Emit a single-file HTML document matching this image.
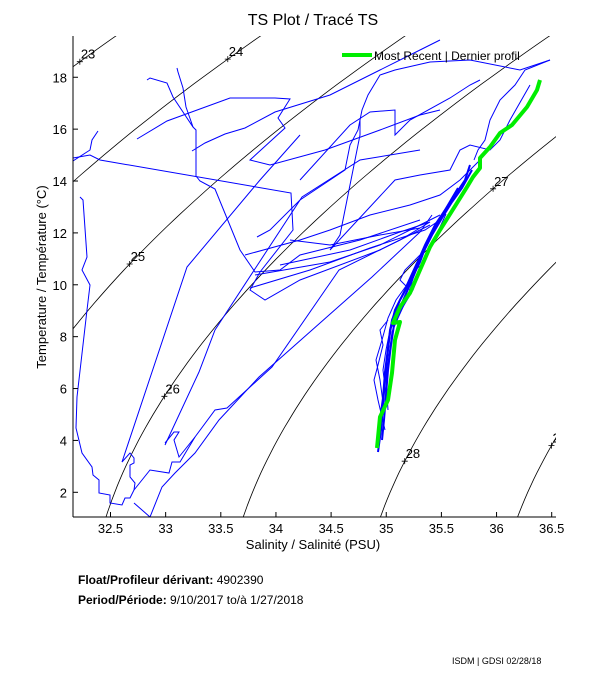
<!DOCTYPE html>
<html><head><meta charset="utf-8"><style>
html,body{margin:0;padding:0;background:#fff;}
svg{display:block;font-family:"Liberation Sans",sans-serif;}
</style></head><body>
<svg id="s" width="611" height="675" viewBox="0 0 611 675" xmlns="http://www.w3.org/2000/svg">
<defs><clipPath id="c"><rect x="73" y="36" width="483" height="481"/></clipPath></defs>
<rect width="611" height="675" fill="#fff"/>
<text x="313" y="25" font-size="16" text-anchor="middle">TS Plot / Tracé TS</text>
<g id="cont" clip-path="url(#c)" fill="none" stroke="#000" stroke-width="0.8"></g>
<g clip-path="url(#c)" fill="none" stroke="#0000ff" stroke-width="1">
<polyline points="80,197 83,200 87,257 82,270 90,285 87,310 77,397 76,428 82,453 92,467 93,475 99,480 99,493 110,495 110,503 122,505 125,498 130,498 134,490 135,483 130,477 130,465 134,463 134,458 130,453 122,462 187,267 260,180 300,135"/>
<polyline points="134,503 150,517 162,487 175,473 195,453 219,420 259,377 372,277 420,232 432,215"/>
<polyline points="134,490 150,470 169,473 172,462 180,462 195,437 215,410 227,408 272,367 339,270 400,240 430,222"/>
<polyline points="165,445 199,372 215,330 302,197 360,160 420,150"/>
<polyline points="165,443 174,432 179,432 174,440 179,457 195,437"/>
<polyline points="73,158 90,155 100,160 291,193 293,230 260,272 250,290 265,300 300,280 380,250 430,225"/>
<polyline points="73,161 90,150 92,140 98,131"/>
<polyline points="147,80 150,78 167,83 173,97 193,127 196,130 196,176 200,181 215,189 240,250 255,272 280,270 300,255 360,240 420,220"/>
<polyline points="177,68 178,72 183,88 186,107 193,127"/>
<polyline points="137,139 167,121 230,98 275,98 290,99 278,118 285,128 250,160 270,165 325,150 380,130 420,115 440,110"/>
<polyline points="192,151 205,143 225,134 245,128 275,112 330,95 380,70 410,55 440,40"/>
<polyline points="257,237 270,230 300,200 345,170 350,145 358,130 362,110 368,95 380,75 395,70 430,62 470,60 520,70 550,60"/>
<polyline points="360,120 360,135 340,235 330,250 395,180 420,175 450,170 460,150 470,145 490,150 500,140 510,120 530,85"/>
<polyline points="300,180 350,125 370,112 395,110 395,135 410,120 450,98 470,85 480,80"/>
<polyline points="245,255 300,240 330,230 370,215 410,205 440,195 460,180 480,160"/>
<polyline points="255,275 330,262 380,245 420,225 440,215"/>
<polyline points="290,240 330,245 380,235 420,228"/>
<polyline points="250,288 310,270 370,248 425,230 440,220"/>
<polyline points="280,265 350,250 400,232 430,222"/>
</g>
<g clip-path="url(#c)" fill="none" stroke="#0000ff" stroke-width="2">
<polyline points="378,452 381,430 383,405 385,380 387,360 390,330 395,310 405,290 415,268 425,245 435,225 445,210 455,195 465,180 470,165"/>
<polyline points="382,440 384,420 386,395 388,370 391,345 394,325 402,303 412,280 422,255 432,235 442,218 452,202 462,188 472,170"/>
<polyline points="380,420 383,398 385,372 389,340 392,320 400,300 410,282 420,262 428,240 438,222 448,205 458,188"/>
</g>
<g clip-path="url(#c)" fill="none" stroke="#0000ff" stroke-width="1">
<polyline points="384,410 380,380 376,360 382,340 388,318 396,300 406,286 416,264 430,238"/>
<polyline points="386,395 383,370 386,350 390,330 400,312 413,290 424,262 435,238 446,214"/>
<polyline points="388,410 386,380 389,355 392,332 398,318 408,296 418,275 428,250"/>
<polyline points="420,255 405,270 400,280 410,290 415,270 425,262"/>
<polyline points="385,430 378,400 374,380 378,365 383,345 380,330 388,320"/>
<polyline points="474,160 478,150 485,140 490,120 500,100 515,85 525,70 550,60"/>
</g>
<polyline clip-path="url(#c)" fill="none" stroke="#00ee00" stroke-width="4" stroke-linejoin="round" points="540,80 537,90 527,107 512,125 500,133 490,147 480,158 480,168 473,177 467,187 457,203 440,230 430,247 420,270 410,293 400,307 393,323 400,322 395,340 392,373 388,400 380,417 377,448"/>
<line x1="342" y1="55" x2="372" y2="55" stroke="#00ee00" stroke-width="4"/>
<text x="374" y="60" font-size="12">Most Recent | Dernier profil</text>
<g stroke="#000" stroke-width="1" fill="none">
<line x1="73" y1="36" x2="73" y2="517"/>
<line x1="73" y1="517" x2="556" y2="517"/>
</g>
<g id="ticks" stroke="#000" stroke-width="1"></g>
<g id="tl" font-size="13"></g>
<text x="313" y="549" font-size="13" text-anchor="middle">Salinity / Salinité (PSU)</text>
<text transform="translate(46,277) rotate(-90)" font-size="13" text-anchor="middle">Temperature / Température (°C)</text>
<text x="78" y="584" font-size="12"><tspan font-weight="bold">Float/Profileur dérivant:</tspan> 4902390</text>
<text x="78" y="604" font-size="12"><tspan font-weight="bold">Period/Période:</tspan> 9/10/2017  to/à  1/27/2018</text>
<text x="452" y="664" font-size="9">ISDM | GDSI 02/28/18</text>
</svg>
<script>
var NS="http://www.w3.org/2000/svg";
function X(s){return 110.5+(s-32.5)*110.3;}
function Y(t){return 492.3-(t-2)*25.94;}
function sig(S,T){
var rw=999.842594+6.793952e-2*T-9.095290e-3*T*T+1.001685e-4*T*T*T-1.120083e-6*T*T*T*T+6.536332e-9*Math.pow(T,5);
var A=8.24493e-1-4.0899e-3*T+7.6438e-5*T*T-8.2467e-7*T*T*T+5.3875e-9*T*T*T*T;
var B=-5.72466e-3+1.0227e-4*T-1.6546e-6*T*T;
return rw+A*S+B*Math.pow(S,1.5)+4.8314e-4*S*S-1000;}
function solveS(c,T){var lo=25,hi=45;for(var i=0;i<50;i++){var m=(lo+hi)/2;if(sig(m,T)<c)lo=m;else hi=m;}return (lo+hi)/2;}
var g=document.getElementById("cont");
function el(n,a,p,txt){var e=document.createElementNS(NS,n);for(var k in a)e.setAttribute(k,a[k]);if(txt)e.textContent=txt;p.appendChild(e);return e;}
var labs={23:18.6,24:18.7,25:10.8,26:5.7,27:13.7,28:3.2,29:3.8};
for(var c=23;c<=29;c++){
var pts=[];for(var T=0;T<=21;T+=0.25){pts.push(X(solveS(c,T)).toFixed(1)+","+Y(T).toFixed(1));}
el("polyline",{points:pts.join(" ")},g);
var t=labs[c],px=X(solveS(c,t)),py=Y(t);
el("path",{d:"M"+(px-3)+","+py+"h6M"+px+","+(py-3)+"v6"},g);
el("text",{x:px+1,y:py-3,"font-size":"13",fill:"#000",stroke:"none"},g,String(c));
}
var tk=document.getElementById("ticks"),tl=document.getElementById("tl");
for(var s=32.5;s<=36.51;s+=0.5){var x=X(s);el("line",{x1:x,y1:517,x2:x,y2:512},tk);el("text",{x:x,y:533,"text-anchor":"middle"},tl,String(+s.toFixed(1)));}
for(var t=2;t<=18;t+=2){var y=Y(t);el("line",{x1:73,y1:y,x2:78,y2:y},tk);el("text",{x:67,y:y+5,"text-anchor":"end"},tl,String(t));}
</script>
</body></html>
